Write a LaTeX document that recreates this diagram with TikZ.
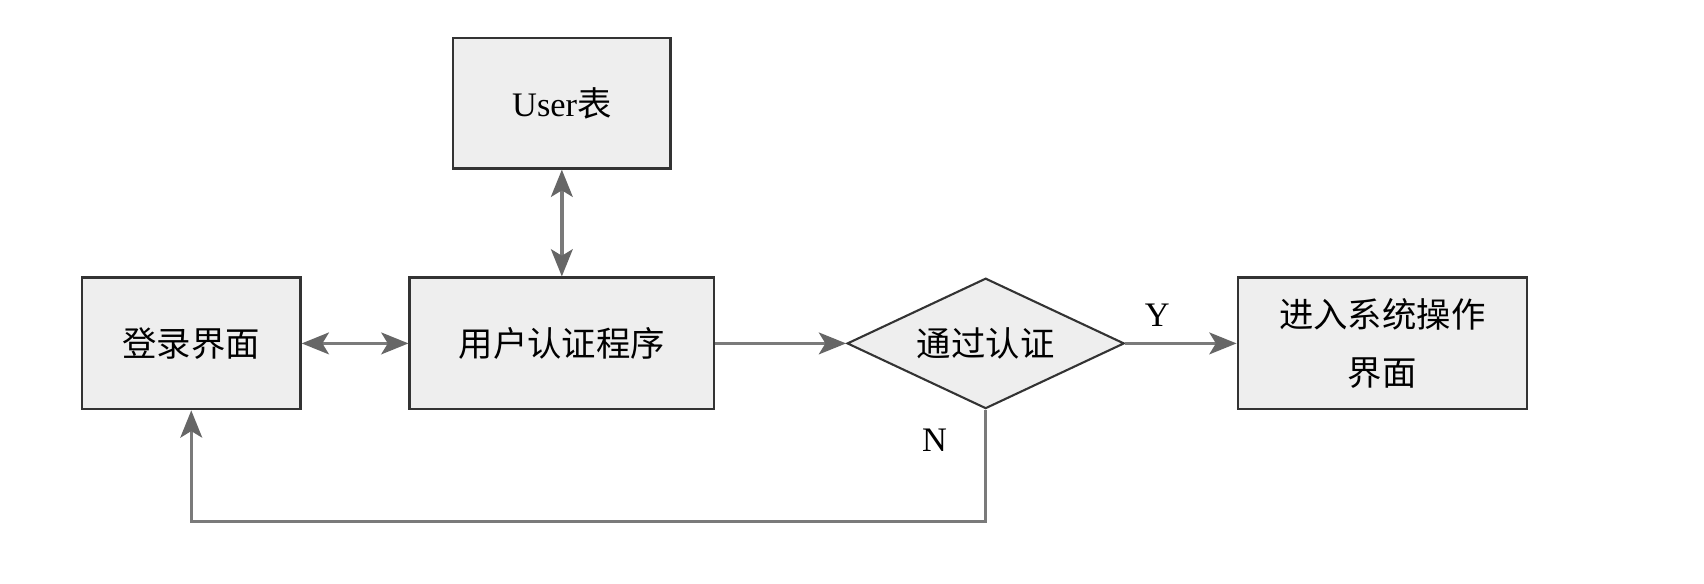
\documentclass[tikz,border=0pt]{standalone}
\usepackage{fontspec}
\setmainfont{Liberation Serif}
\newfontfamily\cjk{Noto Sans CJK SC}
\usetikzlibrary{shapes.geometric,arrows.meta}
\definecolor{boxfill}{HTML}{EEEEEE}
\definecolor{linegray}{HTML}{7A7A7A}
\definecolor{tipgray}{HTML}{666666}
\begin{document}
\begin{tikzpicture}[
  box/.style={draw=black!80,fill=boxfill,line width=1.3pt,minimum height=2.42cm,
    inner sep=0pt,align=center,font=\fontsize{18}{30}\selectfont\cjk},
  choice/.style={diamond,draw=black!80,fill=boxfill,line width=1.1pt,minimum width=5.1cm,
    minimum height=2.4cm,inner sep=0pt,aspect=2,font=\fontsize{18}{24}\selectfont\cjk},
  link/.style={draw=linegray,line width=1.8pt,
    -{Stealth[length=0.5cm,width=0.4cm,inset=0.12cm,fill=tipgray,color=tipgray]}},
  both/.style={link,{Stealth[length=0.5cm,width=0.4cm,inset=0.12cm,fill=tipgray,color=tipgray]}-{Stealth[length=0.5cm,width=0.4cm,inset=0.12cm,fill=tipgray,color=tipgray]}},
  tag/.style={font=\fontsize{18}{20}\selectfont}
]
\useasboundingbox[fill=white] (0,0) rectangle (31.36,10.73);
% boxes
\node[box,minimum width=4.0cm,minimum height=2.4cm] (user) at (10.34,8.83) {{\rmfamily User}表};
\node[box,minimum width=4.02cm] (login) at (3.52,4.41) {登录界面};
\node[box,minimum width=5.6cm] (auth) at (10.34,4.41) {用户认证程序};
\node[choice] (pass) at (18.14,4.41) {通过认证};
\node[box,minimum width=5.32cm] (enter) at (25.44,4.41) {进入系统操作\\界面};
% labels
\node[tag] (yes) at (21.3,4.92) {Y};
\node[tag] (no) at (17.2,2.63) {N};
\coordinate (turn) at (18.14,1.13);
% connectors
\draw[both] (login) -- (auth);
\draw[both] (user) -- (auth);
\draw[link] (auth) -- (pass);
\draw[link] (pass) -- (enter);
\draw[link] (pass.south) -- (turn) -| (login.south);
\end{tikzpicture}
\end{document}
